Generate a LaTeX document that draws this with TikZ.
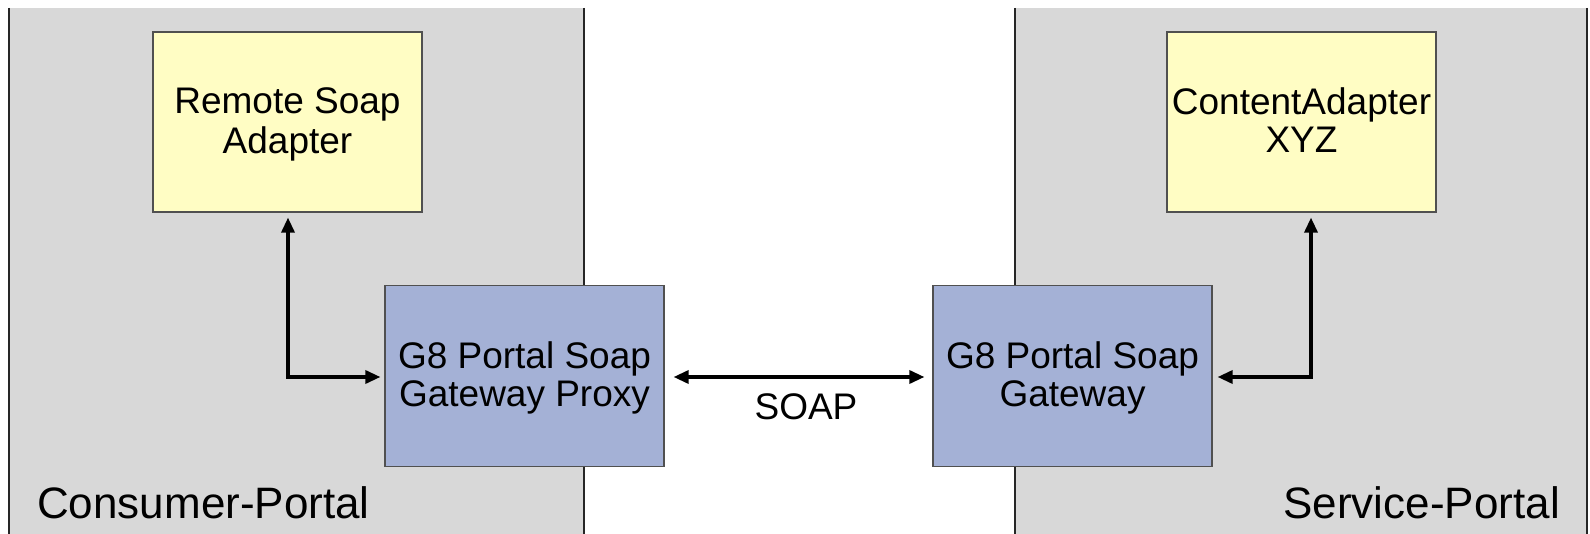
\documentclass[tikz,border=0pt]{standalone}
\usepackage{fontspec}
\setmainfont{Liberation Sans}
\usetikzlibrary{arrows.meta}
\definecolor{panelgray}{HTML}{D8D8D8}
\definecolor{boxyellow}{HTML}{FFFDC4}
\definecolor{boxblue}{HTML}{A4B1D6}
\definecolor{edgegray}{HTML}{505050}
\tikzset{
  panel/.style={fill=panelgray, draw=none},
  paneledge/.style={draw=black!85, line width=1.4pt},
  ybox/.style={draw=edgegray, line width=1.2pt, fill=boxyellow, rectangle, inner sep=0pt},
  bbox/.style={draw=edgegray, line width=1.2pt, fill=boxblue, rectangle, inner sep=0pt},
  boxtext/.style={align=center, inner sep=0pt, font=\fontsize{37}{37.6}\selectfont},
  bigtext/.style={inner sep=0pt, font=\fontsize{44}{46}\selectfont},
  conn2/.style={draw=black, line width=3.3pt, line join=miter, {Triangle[length=15pt,width=13pt]}-{Triangle[length=15pt,width=13pt]}}
}
\begin{document}
\begin{tikzpicture}[x=1pt,y=-1pt]
\useasboundingbox (0,0) rectangle (1590,534);
\fill[white] (0,0) rectangle (1590,534);
% panels
\fill[panel] (9,8) rectangle (584,534);
\draw[paneledge] (9,8) -- (9,534);
\draw[paneledge] (584,8) -- (584,534);
\fill[panel] (1015,8) rectangle (1587,534);
\draw[paneledge] (1015,8) -- (1015,534);
\draw[paneledge] (1587,8) -- (1587,534);
% boxes
\node[ybox, minimum width=269pt, minimum height=180pt] (rsa) at (287.5,122) {};
\node[ybox, minimum width=269pt, minimum height=180pt] (cax) at (1301.5,122) {};
\node[bbox, minimum width=279pt, minimum height=181pt] (proxy) at (524.5,376) {};
\node[bbox, minimum width=279pt, minimum height=181pt] (gw) at (1072.5,376) {};
% box texts
\node[boxtext] (rsat) at ([yshift=-4pt]rsa.center) {\strut Remote Soap\\Adapter\strut};
\node[boxtext] (caxt) at ([yshift=-4pt]cax.center) {\strut ContentAdapter\\XYZ\strut};
\node[boxtext] (proxyt) at ([yshift=-4pt]proxy.center) {\strut G8 Portal Soap\\Gateway Proxy\strut};
\node[boxtext] (gwt) at ([yshift=-4pt]gw.center) {\strut G8 Portal Soap\\Gateway\strut};
% panel labels
\node[bigtext, anchor=base west] (cp) at (37,518) {Consumer-Portal};
\node[bigtext, anchor=base east] (sp) at (1560,518) {Service-Portal};
% connectors
\coordinate (lc) at (288,377);
\coordinate (rc) at (1311,377);
\draw[conn2, shorten <=5pt, shorten >=4pt] (lc |- rsa.south) -- (lc) -- (proxy.west |- lc);
\draw[conn2, shorten <=5pt, shorten >=5pt] (rc |- cax.south) -- (rc) -- (gw.east |- rc);
\draw[conn2, shorten <=9pt, shorten >=8pt] (proxy.east |- lc) -- (gw.west |- lc);
\node[font=\fontsize{37}{38}\selectfont, anchor=base, inner sep=0pt] (soap) at (806,419) {SOAP};
\end{tikzpicture}
\end{document}
